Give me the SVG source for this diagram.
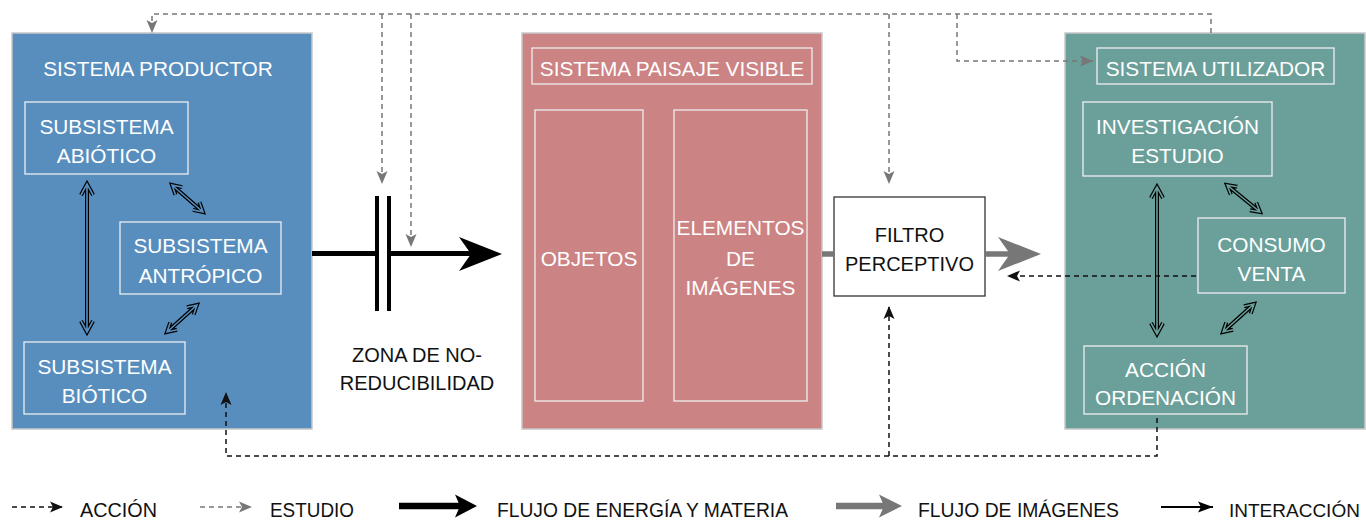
<svg xmlns="http://www.w3.org/2000/svg" width="1366" height="521" viewBox="0 0 1366 521">
<style>
.outer{stroke:#c8c8c8;stroke-width:1.5}
.inner{fill:none;stroke:#eeeeee;stroke-width:1.3}
.wt{fill:#ffffff;font-family:"Liberation Sans",Arial,sans-serif;font-size:20.8px;text-anchor:middle}
.bt{fill:#111111;font-family:"Liberation Sans",Arial,sans-serif;font-size:20px;text-anchor:middle}
.lt{fill:#111111;font-family:"Liberation Sans",Arial,sans-serif;font-size:20px}
.gd{fill:none;stroke:#777777;stroke-width:1.5;stroke-dasharray:5 4}
.bd{fill:none;stroke:#111111;stroke-width:1.5;stroke-dasharray:5 4}
.dbo{fill:none;stroke:#000;stroke-width:4;stroke-linejoin:miter}
</style>
<defs>
<marker id="ha" markerUnits="userSpaceOnUse" markerWidth="14" markerHeight="12" refX="13" refY="6" orient="auto">
<path d="M0,0.5 L13,6 L0,11.5 L3,6 z" fill="#111111"/>
</marker>
<marker id="hs" markerUnits="userSpaceOnUse" markerWidth="14" markerHeight="12" refX="13" refY="6" orient="auto">
<path d="M0,0.5 L13,6 L0,11.5 L3,6 z" fill="#777777"/>
</marker>
<marker id="hi" markerUnits="userSpaceOnUse" markerWidth="16" markerHeight="12" refX="15" refY="6" orient="auto">
<path d="M0,0.5 L15,6 L0,11.5 L3,6 z" fill="#000000"/>
</marker>
</defs>

<g id="sistema-productor">
<rect class="outer" x="12" y="33" width="300" height="396" fill="#588ebe"/>
<text class="wt" x="158" y="76">SISTEMA PRODUCTOR</text>
</g>
<g id="subsistema-abiotico">
<rect class="inner" x="25" y="102" width="163" height="72"/>
<text class="wt" x="106.5" y="134">SUBSISTEMA</text>
<text class="wt" x="106.5" y="163">ABIÓTICO</text>
</g>
<g id="subsistema-antropico">
<rect class="inner" x="120" y="222" width="161" height="72"/>
<text class="wt" x="200.5" y="253">SUBSISTEMA</text>
<text class="wt" x="200.5" y="283">ANTRÓPICO</text>
</g>
<g id="subsistema-biotico">
<rect class="inner" x="24" y="342" width="161" height="72"/>
<text class="wt" x="104.5" y="374">SUBSISTEMA</text>
<text class="wt" x="104.5" y="403">BIÓTICO</text>
</g>

<g id="sistema-paisaje-visible">
<rect class="outer" x="522" y="33" width="300" height="396" fill="#cc8383"/>
<rect class="inner" x="532" y="48" width="280" height="36"/>
<text class="wt" x="672" y="76">SISTEMA PAISAJE VISIBLE</text>
</g>
<g id="objetos">
<rect class="inner" x="535" y="110" width="108" height="291"/>
<text class="wt" x="589" y="266">OBJETOS</text>
</g>
<g id="elementos-de-imagenes">
<rect class="inner" x="674" y="110" width="133" height="291"/>
<text class="wt" x="740.5" y="235">ELEMENTOS</text>
<text class="wt" x="740.5" y="266">DE</text>
<text class="wt" x="740.5" y="295">IMÁGENES</text>
</g>

<g id="filtro-perceptivo">
<rect x="834" y="197" width="151" height="99" fill="#ffffff" stroke="#333333" stroke-width="1.3"/>
<text class="bt" x="909.5" y="242">FILTRO</text>
<text class="bt" x="909.5" y="271">PERCEPTIVO</text>
</g>

<g id="zona-no-reducibilidad">
<text class="bt" x="417" y="362">ZONA DE NO-</text>
<text class="bt" x="417" y="390">REDUCIBILIDAD</text>
</g>

<g id="sistema-utilizador">
<rect class="outer" x="1065" y="33" width="300" height="396" fill="#6a9f9a"/>
<rect class="inner" x="1097" y="48" width="237" height="36"/>
<text class="wt" x="1215.5" y="76">SISTEMA UTILIZADOR</text>
</g>
<g id="investigacion-estudio">
<rect class="inner" x="1083" y="102" width="189" height="74"/>
<text class="wt" x="1177.5" y="134">INVESTIGACIÓN</text>
<text class="wt" x="1177.5" y="163">ESTUDIO</text>
</g>
<g id="consumo-venta">
<rect class="inner" x="1198" y="218" width="147" height="75"/>
<text class="wt" x="1271.5" y="252">CONSUMO</text>
<text class="wt" x="1271.5" y="281">VENTA</text>
</g>
<g id="accion-ordenacion">
<rect class="inner" x="1084" y="346" width="163" height="68"/>
<text class="wt" x="1165.5" y="377">ACCIÓN</text>
<text class="wt" x="1165.5" y="405">ORDENACIÓN</text>
</g>

<g id="connectors">
<g>
<path class="dbo" d="M87,184 V332 M81,195 L87,184 L93,195 M81,321 L87,332 L93,321"/>
<path d="M87,184 V332 M81,195 L87,184 L93,195 M81,321 L87,332 L93,321" fill="none" stroke="#588ebe" stroke-width="1.6"/>
<path class="dbo" d="M172,185 L203,212 M192.9,209.9 L203,212 L199.5,202.3 M175.5,194.7 L172,185 L182.1,187.1"/>
<path d="M172,185 L203,212 M192.9,209.9 L203,212 L199.5,202.3 M175.5,194.7 L172,185 L182.1,187.1" fill="none" stroke="#588ebe" stroke-width="1.6"/>
<path class="dbo" d="M197,305 L167,332 M170.3,322.3 L167,332 L177,329.7 M187,307.3 L197,305 L193.6,314.7"/>
<path d="M197,305 L167,332 M170.3,322.3 L167,332 L177,329.7 M187,307.3 L197,305 L193.6,314.7" fill="none" stroke="#588ebe" stroke-width="1.6"/>
</g>
<g>
<path class="dbo" d="M1157,187 V334 M1151,198 L1157,187 L1163,198 M1151,323 L1157,334 L1163,323"/>
<path d="M1157,187 V334 M1151,198 L1157,187 L1163,198 M1151,323 L1157,334 L1163,323" fill="none" stroke="#6a9f9a" stroke-width="1.6"/>
<path class="dbo" d="M1227,185 L1260,212 M1249.9,210.2 L1260,212 L1256.2,202.4 M1230.8,194.6 L1227,185 L1237.2,186.8"/>
<path d="M1227,185 L1260,212 M1249.9,210.2 L1260,212 L1256.2,202.4 M1230.8,194.6 L1227,185 L1237.2,186.8" fill="none" stroke="#6a9f9a" stroke-width="1.6"/>
<path class="dbo" d="M1254,304 L1223,332 M1226.3,322.3 L1223,332 L1233,329.7 M1244,306.3 L1254,304 L1250.7,313.7"/>
<path d="M1254,304 L1223,332 M1226.3,322.3 L1223,332 L1233,329.7 M1244,306.3 L1254,304 L1250.7,313.7" fill="none" stroke="#6a9f9a" stroke-width="1.6"/>
</g>

<path d="M312,253.5 H377 M389,253.5 H476" fill="none" stroke="#000" stroke-width="5"/>
<path d="M377,196 V311 M389,196 V311" fill="none" stroke="#000" stroke-width="4"/>
<polygon points="502,254 459,237 471,254 459,271" fill="#000"/>

<path d="M822,254 H834 M985,254 H1012" fill="none" stroke="#777777" stroke-width="5.5"/>
<polygon points="1041,254 998,237 1010,254 998,271" fill="#777777"/>

<path class="gd" d="M1211,33 V14 H152 V33" marker-end="url(#hs)"/>
<path class="gd" d="M382,14 V184" marker-end="url(#hs)"/>
<path class="gd" d="M411,14 V247" marker-end="url(#hs)"/>
<path class="gd" d="M889,14 V184" marker-end="url(#hs)"/>
<path class="gd" d="M957,14 V61 H1093" marker-end="url(#hs)"/>

<path class="bd" d="M1157,418 V456 H226 V392" marker-end="url(#ha)"/>
<path class="bd" d="M889,456 V306" marker-end="url(#ha)"/>
<path class="bd" d="M1196,276 H1007" marker-end="url(#ha)"/>
</g>

<g id="legend">
<path class="bd" d="M12,507 H63" marker-end="url(#ha)"/>
<text class="lt" x="80" y="516.5" textLength="77" lengthAdjust="spacingAndGlyphs">ACCIÓN</text>
<path class="gd" d="M200,507 H252" marker-end="url(#hs)"/>
<text class="lt" x="270" y="516.5" textLength="84" lengthAdjust="spacingAndGlyphs">ESTUDIO</text>
<path d="M399,506 H462" fill="none" stroke="#000" stroke-width="6.5"/>
<polygon points="477,506 455,494.5 460,506 455,517.5" fill="#000"/>
<text class="lt" x="497" y="516.5" textLength="291" lengthAdjust="spacingAndGlyphs">FLUJO DE ENERGÍA Y MATERIA</text>
<path d="M836,506 H885" fill="none" stroke="#777777" stroke-width="6.5"/>
<polygon points="902,506 879,494.5 884,506 879,517.5" fill="#777777"/>
<text class="lt" x="918" y="516.5" textLength="201" lengthAdjust="spacingAndGlyphs">FLUJO DE IMÁGENES</text>
<path d="M1161,507 H1213" fill="none" stroke="#000" stroke-width="2" marker-end="url(#hi)"/>
<text class="lt" x="1229" y="516.5" style="font-size:19px">INTERACCIÓN</text>
</g>
</svg>
